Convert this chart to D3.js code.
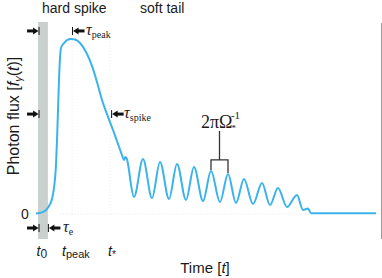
<!DOCTYPE html>
<html>
<head>
<meta charset="utf-8">
<style>
  body { margin: 0; background: #fff; }
  text { font-family: "Liberation Sans", Arial, sans-serif; fill: #1a1a1a; }
  .serif { font-family: "Liberation Serif", "Times New Roman", serif; }
</style>
</head>
<body>
<svg id="chart" width="382" height="278"></svg>
<script src="https://d3js.org/d3.v7.min.js"></script>
<script>

// photon flux curve, time in arbitrary units, flux normalised to peak
var time = [0, 1.76, 2.94, 3.82, 4.71, 5.29, 5.88, 6.18, 6.47, 6.76, 7.06, 7.35, 8.24, 9.12, 10.29,
            11.47, 12.94, 14.71, 16.47, 17.94, 19.41, 20.88, 22.65, 24.12, 25.29, 25.88, 26.32, 26.76,
            27.35, 27.94, 28.82, 31.47, 34.12, 36.47, 39.12, 41.47, 44.12, 46.47, 49.12, 51.47, 54.12,
            56.47, 58.82, 61.18, 63.82, 66.47, 68.82, 71.18, 73.82, 76.76, 78.53, 80.0, 80.88, 100];
var flux = [0.003, 0.009, 0.023, 0.046, 0.086, 0.149, 0.28, 0.423, 0.594, 0.766, 0.891, 0.949, 0.977, 0.994, 1.0,
            0.997, 0.977, 0.926, 0.846, 0.754, 0.651, 0.571, 0.48, 0.4, 0.337, 0.309, 0.326, 0.314,
            0.251, 0.166, 0.097, 0.314, 0.091, 0.297, 0.086, 0.286, 0.08, 0.269, 0.074, 0.246, 0.069,
            0.229, 0.063, 0.2, 0.057, 0.177, 0.051, 0.149, 0.04, 0.109, 0.023, 0.031, 0.005, 0.005];

// marked times
var t0 = 0.6, tauE = 2.9, tPeak = 10.6, tStar = 21.8, tEnd = 101.5;
// bracket between two tail peaks
var periodStart = 51.47, periodEnd = 56.47;
var periodTicks = [0.246, 0.229];

var svg = d3.select("#chart");

var x = d3.scaleLinear().domain([0, 100]).range([36, 376]);
var y = d3.scaleLinear().domain([0, 1]).range([214, 39]);

var blue = "#3ab3ec";

// grey excitation band
svg.append("rect")
    .attr("x", x(t0))
    .attr("y", y(1.097))
    .attr("width", x(t0 + tauE) - x(t0))
    .attr("height", y(-0.143) - y(1.097))
    .attr("fill", "#c9d0ce");

// faint guide lines
svg.append("line")
    .attr("x1", x(7)).attr("x2", x(78))
    .attr("y1", y(0)).attr("y2", y(0))
    .attr("stroke", "#dde3e3").attr("stroke-width", 0.8)
    .attr("stroke-dasharray", "1,2");
[tPeak, tStar].forEach(function(t) {
  svg.append("line")
      .attr("x1", x(t)).attr("x2", x(t))
      .attr("y1", y(1.0)).attr("y2", y(0))
      .attr("stroke", "#e4e8e8").attr("stroke-width", 0.8)
      .attr("stroke-dasharray", "1,2");
});

// right frame line
svg.append("line")
    .attr("x1", x(tEnd) + 0.5).attr("x2", x(tEnd) + 0.5)
    .attr("y1", y(1.091)).attr("y2", y(-0.143))
    .attr("stroke", "#9a9a9a").attr("stroke-width", 1.2);

var line = d3.line()
    .x(function(d, i) { return x(time[i]); })
    .y(function(d) { return y(d); })
    .curve(d3.curveMonotoneX);

svg.append("path")
    .datum(flux)
    .attr("fill", "none")
    .attr("stroke", blue)
    .attr("stroke-width", 2)
    .attr("stroke-linejoin", "round")
    .attr("d", line);

// arrow marker: dir 1 points right (bar at px), dir -1 points left
function arrow(px, py, dir) {
  var g = svg.append("g").attr("transform", "translate(" + px + "," + py + ")");
  g.append("line")
      .attr("x1", -dir * 12).attr("x2", -dir * 5)
      .attr("y1", 0).attr("y2", 0)
      .attr("stroke", "#111").attr("stroke-width", 3);
  g.append("path")
      .attr("d", "M" + (-dir * 6) + ",-3.5L" + (-dir * 0.5) + ",0L" + (-dir * 6) + ",3.5Z")
      .attr("fill", "#111");
  g.append("line")
      .attr("x1", 0).attr("x2", 0)
      .attr("y1", -4).attr("y2", 4)
      .attr("stroke", "#111").attr("stroke-width", 1);
}

arrow(x(t0) + 1, y(1.046), 1);
arrow(x(t0) + 1, y(0.571), 1);
arrow(x(t0) + 1, y(-0.08), 1);
arrow(x(t0 + tauE) + 0.5, y(-0.08), -1);
arrow(x(tPeak) + 0.5, y(1.046), -1);
arrow(x(tStar) + 1.5, y(0.571), -1);

function tauLabel(px, py, sub) {
  var t = svg.append("text")
      .attr("class", "serif")
      .attr("x", px).attr("y", py + 4)
      .attr("font-size", 16);
  t.append("tspan").attr("font-style", "italic").text("τ");
  t.append("tspan").attr("font-size", 10).attr("dy", 3).text(sub);
}
tauLabel(x(tPeak) + 14, y(1.046), "peak");
tauLabel(x(tStar) + 14, y(0.571), "spike");
tauLabel(x(t0 + tauE) + 15, y(-0.08), "e");

// period bracket
svg.append("path")
    .attr("d", "M" + x(periodStart) + "," + (y(periodTicks[0]) - 1) +
               "V" + y(0.309) + "H" + x(periodEnd) + "V" + (y(periodTicks[1]) - 1) +
               "M" + ((x(periodStart) + x(periodEnd)) / 2) + "," + y(0.309) + "V" + y(0.474))
    .attr("fill", "none")
    .attr("stroke", "#333")
    .attr("stroke-width", 1.3);

var om = svg.append("text")
    .attr("class", "serif")
    .attr("x", (x(periodStart) + x(periodEnd)) / 2 + 1)
    .attr("y", y(0.491))
    .attr("text-anchor", "middle")
    .attr("font-size", 18);
om.append("tspan").text("2πΩ");
om.append("tspan").attr("font-size", 9).attr("dy", 3).attr("dx", -1).text("*");
om.append("tspan").attr("font-size", 11).attr("dy", -12).attr("dx", -5).text("-1");

// section titles
svg.append("text").attr("x", 42).attr("y", 13).attr("font-size", 14).text("hard spike");
svg.append("text").attr("x", 140).attr("y", 13).attr("font-size", 14).text("soft tail");

// zero label
svg.append("text")
    .attr("x", 25).attr("y", y(0) + 5)
    .attr("text-anchor", "middle")
    .attr("font-size", 14)
    .text("0");

// time tick labels
function tLabel(px, sub, subSize) {
  var t = svg.append("text")
      .attr("x", px).attr("y", 256)
      .attr("font-size", 14);
  t.append("tspan").attr("font-style", "italic").text("t");
  t.append("tspan").attr("font-size", subSize).attr("dy", 2).text(sub);
}
tLabel(x(t0) - 1.5, "0", 12);
tLabel(x(tPeak) - 10, "peak", 11);
tLabel(x(tStar) - 2, "*", 10);

// axis titles
var xt = svg.append("text")
    .attr("x", 205).attr("y", 273)
    .attr("text-anchor", "middle")
    .attr("font-size", 15);
xt.append("tspan").text("Time [");
xt.append("tspan").attr("font-style", "italic").text("t");
xt.append("tspan").text("]");

var yt = svg.append("text")
    .attr("transform", "translate(19,116) rotate(-90)")
    .attr("text-anchor", "middle")
    .attr("font-size", 16);
yt.append("tspan").text("Photon flux [");
yt.append("tspan").attr("font-style", "italic").text("f");
yt.append("tspan").attr("font-style", "italic").attr("font-size", 11).attr("dy", 3).text("γ");
yt.append("tspan").attr("dy", -3).text("(");
yt.append("tspan").attr("font-style", "italic").text("t");
yt.append("tspan").text(")]");

</script>
</body>
</html>
